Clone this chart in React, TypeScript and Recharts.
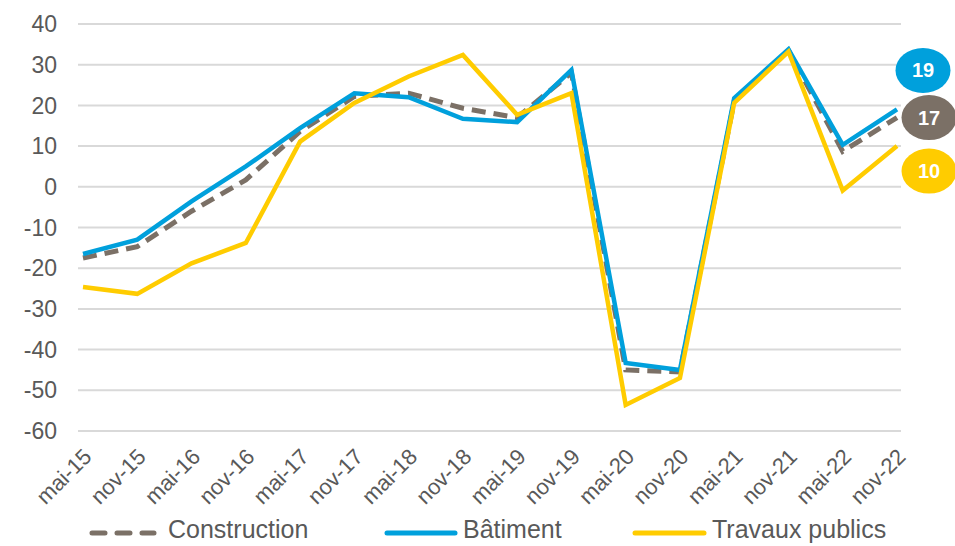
import { LineChart, Line, XAxis, YAxis, CartesianGrid } from 'recharts';

const months = ['mai-15', 'nov-15', 'mai-16', 'nov-16', 'mai-17', 'nov-17', 'mai-18', 'nov-18',
    'mai-19', 'nov-19', 'mai-20', 'nov-20', 'mai-21', 'nov-21', 'mai-22', 'nov-22'];
const construction = [-17.5, -14.7, -6, 1.7, 13.6, 22.2, 23, 19.3, 17, 28, -45, -45.5, 21, 33.5, 8.7, 17];
const batiment = [-16.5, -13, -3.6, 5, 14.4, 23, 22, 16.7, 15.9, 28.7, -43.3, -45, 21.8, 33.8, 10.3, 19];
const travaux = [-24.6, -26.3, -18.8, -13.8, 11.1, 20.6, 27.1, 32.4, 17.7, 23, -53.6, -47, 20.6, 33.2, -0.9, 10];
const yTicks = [-60, -50, -40, -30, -20, -10, 0, 10, 20, 30, 40];

const data = months.map((m, i) => ({
    name: m,
    Construction: construction[i],
    Batiment: batiment[i],
    Travaux: travaux[i],
}));

const FONT = '"Liberation Sans", Arial, sans-serif';
const TEXT = '#595959';
const GREY = '#7b7066';
const BLUE = '#00a0dc';
const YELLOW = '#ffcc00';

function XTick(props: any) {
    const { x, y, payload } = props;
    const ax = x + 10;
    const ay = y + 19;
    return (
        <text x={ax} y={ay} transform={`rotate(-45, ${ax}, ${ay})`} textAnchor="end"
            fill={TEXT} fontSize={22} fontFamily={FONT}>{payload.value}</text>
    );
}

function endLabel(color: string, dx: number, dy: number) {
    return (props: any) => {
        const { x, y, index, value } = props;
        if (index !== months.length - 1) return null;
        const cx = x + dx;
        const cy = y + dy;
        return (
            <g>
                <ellipse cx={cx} cy={cy} rx={27.5} ry={22.5} fill={color} />
                <text x={cx} y={cy + 7} textAnchor="middle" fill="#fff" fontSize={20} fontWeight="bold"
                    fontFamily={FONT}>{Math.round(value)}</text>
            </g>
        );
    };
}

const legendItems = [
    { label: 'Construction', color: GREY, dash: true, x1: 92, x2: 154, tx: 168 },
    { label: 'Bâtiment', color: BLUE, dash: false, x1: 387, x2: 455, tx: 463 },
    { label: 'Travaux publics', color: YELLOW, dash: false, x1: 635, x2: 704, tx: 712 },
];

const App = () => {
    return (
        <div style={{ position: 'absolute', left: 0, top: 0, width: 955, height: 546 }}>
            <LineChart width={955} height={546} data={data}
                margin={{ top: 24, right: 54, bottom: 45, left: 0 }}>
                <CartesianGrid vertical={false} stroke="#d9d9d9" strokeWidth={2} />
                <XAxis dataKey="name" interval={0} axisLine={false} tickLine={false} height={70}
                    padding={{ left: 5, right: 4 }} tick={<XTick />} />
                <YAxis domain={[-60, 40]} ticks={yTicks} width={78} axisLine={false} tickLine={false}
                    tickSize={0} tickMargin={21} interval={0}
                    tick={{ fill: TEXT, fontSize: 23, fontFamily: FONT }} />
                <Line type="linear" dataKey="Construction" stroke={GREY} strokeWidth={5}
                    strokeDasharray="14 8" dot={false} isAnimationActive={false}
                    label={endLabel(GREY, 32, 0)} />
                <Line type="linear" dataKey="Batiment" stroke={BLUE} strokeWidth={4.5}
                    dot={false} isAnimationActive={false} label={endLabel(BLUE, 26, -39)} />
                <Line type="linear" dataKey="Travaux" stroke={YELLOW} strokeWidth={4.5}
                    dot={false} isAnimationActive={false} label={endLabel(YELLOW, 32, 25)} />
            </LineChart>
            <svg width={955} height={28} style={{ position: 'absolute', left: 0, top: 516 }}>
                {legendItems.map((it) => (
                    <g key={it.label}>
                        <line x1={it.x1} x2={it.x2} y1={17} y2={17} stroke={it.color} strokeWidth={5}
                            strokeLinecap="round" strokeDasharray={it.dash ? '13 12' : undefined} />
                        <text x={it.tx} y={22} fill={TEXT} fontSize={25} fontFamily={FONT}>{it.label}</text>
                    </g>
                ))}
            </svg>
        </div>
    );
};

export default App;
